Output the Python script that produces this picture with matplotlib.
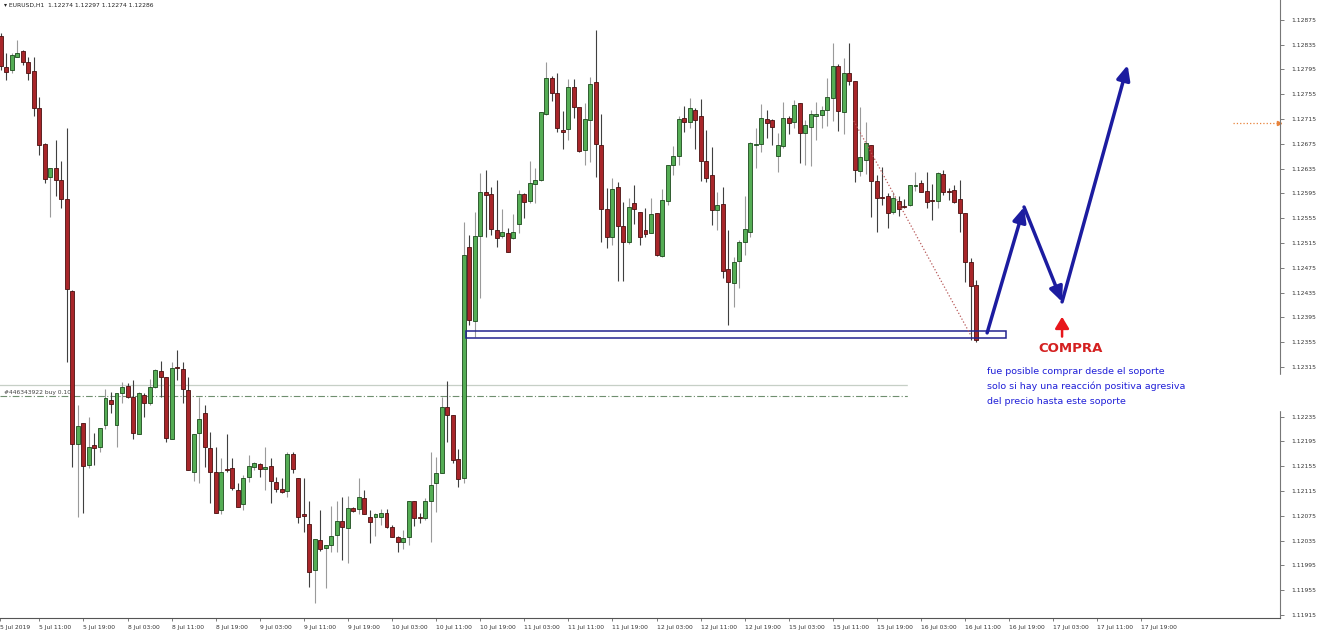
import matplotlib
matplotlib.use('agg')
import matplotlib.pyplot as plt
from matplotlib.patches import Rectangle
import pandas as pd

# cabecera del grafico MT4
title = '▾ EURUSD,H1  1.12274 1.12297 1.12274 1.12286'

# velas H1 EURUSD
opens = [1.12849, 1.12799, 1.12794, 1.12815, 1.12825, 1.12807, 1.12793, 1.12733, 1.12675, 1.12622,
         1.12636, 1.12617, 1.12586, 1.12438, 1.12191, 1.12225, 1.12157, 1.12189, 1.12186, 1.12222,
         1.12262, 1.12222, 1.12273, 1.12285, 1.12267, 1.12207, 1.12270, 1.12257, 1.12283, 1.12309,
         1.12298, 1.12199, 1.12315, 1.12312, 1.12278, 1.12146, 1.12209, 1.12241, 1.12185, 1.12146,
         1.12085, 1.12151, 1.12152, 1.12117, 1.12094, 1.12138, 1.12154, 1.12159, 1.12151, 1.12156,
         1.12130, 1.12118, 1.12115, 1.12175, 1.12136, 1.12078, 1.12062, 1.11988, 1.12036, 1.12023,
         1.12028, 1.12044, 1.12067, 1.12056, 1.12088, 1.12086, 1.12104, 1.12073, 1.12073, 1.12073,
         1.12080, 1.12057, 1.12041, 1.12033, 1.12041, 1.12099, 1.12073, 1.12072, 1.12098, 1.12128,
         1.12144, 1.12251, 1.12238, 1.12167, 1.12136, 1.12509, 1.12389, 1.12527, 1.12598, 1.12594,
         1.12536, 1.12527, 1.12531, 1.12523, 1.12546, 1.12594, 1.12583, 1.12610, 1.12617, 1.12723,
         1.12781, 1.12757, 1.12698, 1.12699, 1.12767, 1.12735, 1.12665, 1.12714, 1.12775, 1.12673,
         1.12570, 1.12525, 1.12606, 1.12543, 1.12517, 1.12580, 1.12565, 1.12536, 1.12531, 1.12564,
         1.12494, 1.12583, 1.12641, 1.12656, 1.12717, 1.12710, 1.12730, 1.12720, 1.12648, 1.12625,
         1.12569, 1.12578, 1.12473, 1.12451, 1.12486, 1.12517, 1.12533, 1.12673, 1.12675, 1.12715,
         1.12714, 1.12656, 1.12672, 1.12717, 1.12710, 1.12741, 1.12693, 1.12702, 1.12720, 1.12722,
         1.12730, 1.12749, 1.12801, 1.12727, 1.12790, 1.12777, 1.12631, 1.12649, 1.12673, 1.12615,
         1.12589, 1.12591, 1.12565, 1.12583, 1.12575, 1.12577, 1.12607, 1.12612, 1.12599, 1.12585,
         1.12583, 1.12627, 1.12599, 1.12601, 1.12586, 1.12564, 1.12485, 1.12448]
highs = [1.12854, 1.12822, 1.12822, 1.12843, 1.12827, 1.12815, 1.12815, 1.12751, 1.12677, 1.12636,
         1.12681, 1.12648, 1.12701, 1.12439, 1.12254, 1.12225, 1.12235, 1.12209, 1.12217, 1.12280,
         1.12275, 1.12273, 1.12291, 1.12289, 1.12294, 1.12275, 1.12273, 1.12296, 1.12312, 1.12325,
         1.12298, 1.12323, 1.12343, 1.12323, 1.12299, 1.12207, 1.12267, 1.12254, 1.12210, 1.12186,
         1.12168, 1.12207, 1.12168, 1.12128, 1.12141, 1.12173, 1.12162, 1.12160, 1.12186, 1.12168,
         1.12138, 1.12136, 1.12178, 1.12178, 1.12136, 1.12136, 1.12099, 1.12038, 1.12085, 1.12027,
         1.12091, 1.12098, 1.12106, 1.12107, 1.12089, 1.12136, 1.12117, 1.12085, 1.12080, 1.12086,
         1.12086, 1.12060, 1.12043, 1.12052, 1.12099, 1.12099, 1.12080, 1.12104, 1.12177, 1.12170,
         1.12267, 1.12293, 1.12238, 1.12183, 1.12549, 1.12528, 1.12565, 1.12628, 1.12633, 1.12606,
         1.12617, 1.12570, 1.12539, 1.12562, 1.12601, 1.12596, 1.12648, 1.12636, 1.12727, 1.12807,
         1.12785, 1.12790, 1.12728, 1.12780, 1.12780, 1.12735, 1.12741, 1.12783, 1.12859, 1.12723,
         1.12604, 1.12620, 1.12614, 1.12581, 1.12588, 1.12609, 1.12565, 1.12572, 1.12588, 1.12564,
         1.12602, 1.12641, 1.12672, 1.12720, 1.12736, 1.12749, 1.12733, 1.12748, 1.12698, 1.12670,
         1.12598, 1.12606, 1.12536, 1.12493, 1.12520, 1.12591, 1.12678, 1.12701, 1.12740, 1.12730,
         1.12715, 1.12693, 1.12743, 1.12720, 1.12746, 1.12741, 1.12714, 1.12730, 1.12743, 1.12736,
         1.12781, 1.12838, 1.12804, 1.12814, 1.12838, 1.12777, 1.12735, 1.12710, 1.12673, 1.12625,
         1.12638, 1.12596, 1.12598, 1.12591, 1.12586, 1.12609, 1.12630, 1.12617, 1.12630, 1.12610,
         1.12630, 1.12633, 1.12604, 1.12609, 1.12617, 1.12564, 1.12491, 1.12456]
lows = [1.12794, 1.12778, 1.12790, 1.12815, 1.12802, 1.12778, 1.12720, 1.12657, 1.12612, 1.12557,
        1.12591, 1.12572, 1.12323, 1.12154, 1.12073, 1.12080, 1.12152, 1.12157, 1.12177, 1.12215,
        1.12241, 1.12186, 1.12257, 1.12265, 1.12198, 1.12207, 1.12235, 1.12254, 1.12281, 1.12267,
        1.12194, 1.12199, 1.12294, 1.12257, 1.12148, 1.12131, 1.12128, 1.12154, 1.12096, 1.12080,
        1.12077, 1.12146, 1.12117, 1.12089, 1.12085, 1.12130, 1.12149, 1.12138, 1.12117, 1.12096,
        1.12114, 1.12112, 1.12106, 1.12144, 1.12064, 1.12049, 1.11960, 1.11935, 1.12018, 1.11959,
        1.12017, 1.12017, 1.12004, 1.11999, 1.12081, 1.12078, 1.12077, 1.12031, 1.12043, 1.12060,
        1.12056, 1.12041, 1.12017, 1.12022, 1.12028, 1.12059, 1.12064, 1.12068, 1.12033, 1.12081,
        1.12144, 1.12194, 1.12160, 1.12122, 1.12128, 1.12383, 1.12364, 1.12427, 1.12525, 1.12528,
        1.12509, 1.12523, 1.12501, 1.12522, 1.12531, 1.12556, 1.12580, 1.12580, 1.12615, 1.12722,
        1.12744, 1.12694, 1.12667, 1.12681, 1.12717, 1.12662, 1.12641, 1.12646, 1.12622, 1.12517,
        1.12507, 1.12512, 1.12454, 1.12454, 1.12514, 1.12546, 1.12512, 1.12525, 1.12531, 1.12494,
        1.12493, 1.12577, 1.12625, 1.12641, 1.12694, 1.12701, 1.12667, 1.12615, 1.12614, 1.12544,
        1.12536, 1.12459, 1.12383, 1.12412, 1.12443, 1.12496, 1.12525, 1.12636, 1.12662, 1.12685,
        1.12673, 1.12630, 1.12669, 1.12691, 1.12701, 1.12644, 1.12641, 1.12639, 1.12681, 1.12701,
        1.12704, 1.12712, 1.12696, 1.12691, 1.12770, 1.12614, 1.12623, 1.12627, 1.12557, 1.12533,
        1.12577, 1.12539, 1.12562, 1.12559, 1.12572, 1.12575, 1.12599, 1.12598, 1.12572, 1.12552,
        1.12572, 1.12593, 1.12585, 1.12580, 1.12533, 1.12452, 1.12359, 1.12356]
closes = [1.12801, 1.12791, 1.12819, 1.12822, 1.12807, 1.12790, 1.12733, 1.12673, 1.12619, 1.12636,
          1.12617, 1.12586, 1.12441, 1.12191, 1.12219, 1.12156, 1.12186, 1.12185, 1.12217, 1.12265,
          1.12256, 1.12273, 1.12283, 1.12267, 1.12209, 1.12273, 1.12257, 1.12283, 1.12310, 1.12298,
          1.12201, 1.12314, 1.12314, 1.12280, 1.12148, 1.12207, 1.12231, 1.12186, 1.12146, 1.12080,
          1.12146, 1.12148, 1.12120, 1.12089, 1.12136, 1.12156, 1.12160, 1.12151, 1.12154, 1.12131,
          1.12118, 1.12114, 1.12175, 1.12151, 1.12073, 1.12075, 1.11985, 1.12038, 1.12022, 1.12027,
          1.12043, 1.12067, 1.12057, 1.12088, 1.12083, 1.12106, 1.12078, 1.12065, 1.12078, 1.12080,
          1.12057, 1.12041, 1.12033, 1.12039, 1.12099, 1.12072, 1.12072, 1.12098, 1.12125, 1.12144,
          1.12251, 1.12238, 1.12165, 1.12135, 1.12496, 1.12391, 1.12527, 1.12598, 1.12593, 1.12538,
          1.12523, 1.12533, 1.12501, 1.12533, 1.12594, 1.12581, 1.12612, 1.12617, 1.12727, 1.12781,
          1.12757, 1.12701, 1.12694, 1.12767, 1.12735, 1.12664, 1.12715, 1.12772, 1.12675, 1.12570,
          1.12525, 1.12602, 1.12543, 1.12517, 1.12573, 1.12570, 1.12525, 1.12530, 1.12562, 1.12496,
          1.12585, 1.12641, 1.12656, 1.12715, 1.12710, 1.12733, 1.12714, 1.12648, 1.12620, 1.12569,
          1.12577, 1.12470, 1.12452, 1.12485, 1.12517, 1.12538, 1.12677, 1.12675, 1.12717, 1.12709,
          1.12702, 1.12673, 1.12717, 1.12709, 1.12738, 1.12693, 1.12706, 1.12723, 1.12723, 1.12730,
          1.12751, 1.12801, 1.12728, 1.12790, 1.12777, 1.12633, 1.12654, 1.12677, 1.12615, 1.12588,
          1.12588, 1.12564, 1.12588, 1.12570, 1.12573, 1.12609, 1.12609, 1.12598, 1.12581, 1.12583,
          1.12628, 1.12598, 1.12598, 1.12581, 1.12564, 1.12485, 1.12446, 1.12359]

# dias de negociacion mostrados en el eje de tiempo
trading_days = ['2019-07-05', '2019-07-08', '2019-07-09', '2019-07-10', '2019-07-11',
                '2019-07-12', '2019-07-15', '2019-07-16', '2019-07-17']
first_hour = 4

# escala de precios (derecha)
price_ticks = [1.11915, 1.11955, 1.11995, 1.12035, 1.12075, 1.12115, 1.12155, 1.12195, 1.12235,
               1.12275, 1.12315, 1.12355, 1.12395, 1.12435, 1.12475, 1.12515, 1.12555, 1.12595,
               1.12635, 1.12675, 1.12715, 1.12755, 1.12795, 1.12835, 1.12875]

bid_price = 1.12286
order_price = 1.12268
order_label = '#446343922 buy 0.10'

# zona de soporte (rectangulo)
support_bars = [84.4, 182.4]
support_prices = [1.12362, 1.12373]

# linea de tendencia punteada
trend_bars = [154.8, 176.1]
trend_prices = [1.12712, 1.12365]

# flechas azules del escenario
path_bars = [179.0, 185.7, 192.6, 204.5]
path_prices = [1.12370, 1.12573, 1.12420, 1.12802]

buy_bar = 192.6
buy_prices = [1.12364, 1.12396]
buy_label = 'COMPRA'
note_lines = ['fue posible comprar desde el soporte',
              'solo si hay una reacción positiva agresiva',
              'del precio hasta este soporte']

level_price = 1.12709
level_bars = [223.6, 231.9]

# ---------------------------------------------------------------
bar_times = []
for d in trading_days:
    start = first_hour if d == trading_days[0] else 0
    bar_times += list(pd.date_range('%s %02d:00' % (d, start), d + ' 23:00', freq='h'))

W, H = 1318, 633
fig = plt.figure(figsize=(W / 100, H / 100), dpi=100)
ax = fig.add_axes([0, 15 / H, 1280 / W, 618 / H])
x_left, x_right = -0.145, 232.15
ax.set_xlim(x_left, x_right)
ax.set_ylim(1.11910, 1.12907)

# velas
idx = list(range(len(opens)))
up = [c >= o for o, c in zip(opens, closes)]
bottoms = [min(o, c) for o, c in zip(opens, closes)]
heights = [max(abs(c - o), 0.000012) for o, c in zip(opens, closes)]
ax.vlines(idx, lows, highs, colors=['#9a9a9a' if u else '#404040' for u in up], lw=0.8, zorder=2)
ax.bar(idx, heights, bottom=bottoms, width=0.72,
       color=['#55ad55' if u else '#a8262a' for u in up],
       edgecolor=['#1c4a1c' if u else '#4a1010' for u in up], linewidth=0.6, zorder=3)

# lineas de precio y orden
ax.axhline(bid_price, color='#c6cfc6', lw=0.9, zorder=1)
ax.axhline(order_price, color='#6f8f6f', lw=0.8, dashes=(6, 2, 1, 2), zorder=1)
ax.text(0.6, order_price + 0.00002, order_label, fontsize=4.3, color='#444444', va='bottom')

ax.add_patch(Rectangle((support_bars[0], support_prices[0]), support_bars[1] - support_bars[0],
                       support_prices[1] - support_prices[0], fill=False, edgecolor='#23238f', lw=1.1, zorder=4))
ax.plot(trend_bars, trend_prices, ls=':', color='#b85a5a', lw=0.9, zorder=4)

ax.plot(level_bars, [level_price] * 2, ls=':', color='#e8823a', lw=0.9, clip_on=False)
ax.plot([level_bars[1]], [level_price], marker='>', ms=3, color='#e8823a', clip_on=False)

for k in range(len(path_bars) - 1):
    ax.annotate('', xy=(path_bars[k + 1], path_prices[k + 1]), xytext=(path_bars[k], path_prices[k]),
                arrowprops=dict(arrowstyle='-|>,head_length=0.55,head_width=0.25', color='#1c1ca0',
                                lw=2.5, mutation_scale=16, shrinkA=0, shrinkB=0), zorder=5)

ax.annotate('', xy=(buy_bar, buy_prices[1]), xytext=(buy_bar, buy_prices[0]),
            arrowprops=dict(arrowstyle='-|>,head_length=0.5,head_width=0.3', color='#e8161b',
                            lw=1.8, mutation_scale=14, shrinkA=0, shrinkB=0), zorder=5)
ax.text(194.2, 1.12344, buy_label, color='#d42020', fontsize=9.5, fontweight='bold', ha='center', va='center')

# ejes
for s in ['left', 'top']:
    ax.spines[s].set_visible(False)
ax.spines['right'].set_color('#777777')
ax.spines['bottom'].set_color('#555555')
ax.yaxis.tick_right()
ax.set_yticks(price_ticks)
ax.set_yticklabels(['%.5f' % p for p in price_ticks])
ax.tick_params(axis='y', labelsize=4.3, length=3, width=0.6, color='#666666', labelcolor='#333333', pad=5)

tick_idx = [i for i, t in enumerate(bar_times) if t.hour in (3, 11, 19)]
tick_lab = ['%d %s' % (bar_times[i].day, bar_times[i].strftime('%b %H:%M')) for i in tick_idx]
first = bar_times[0]
ax.set_xticks([x_left] + tick_idx)
ax.set_xticklabels(['%d %s' % (first.day, first.strftime('%b %Y'))] + tick_lab)
ax.tick_params(axis='x', labelsize=4.3, length=2, width=0.6, color='#666666', labelcolor='#333333', pad=3)
for lab in ax.get_xticklabels():
    lab.set_ha('left')

# caja blanca de la nota (tapa lineas y eje)
fig.patches.append(Rectangle((908 / W, (H - 410) / H), (W - 908) / W, 35 / H,
                             transform=fig.transFigure, color='white', zorder=5))
for n, line in enumerate(note_lines):
    fig.text(987 / W, 1 - (371 + 15.5 * n) / H, line, fontsize=6.8, color='#1f1fd8', va='center', zorder=6)

fig.text(4 / W, 1 - 5 / H, title, fontsize=4.3, color='#222222', va='center')

plt.savefig('out.png', dpi=100)
